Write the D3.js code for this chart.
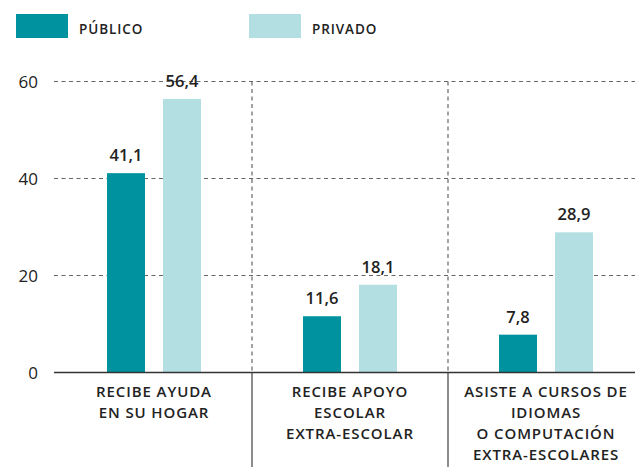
<!DOCTYPE html>
<html><head><meta charset="utf-8">
<script src="https://cdn.jsdelivr.net/npm/d3@7"></script>
<style>body{margin:0;background:#fff}svg{display:block}text{font-family:"Open Sans",sans-serif;fill:#222}</style>
</head><body><svg width="635" height="468"></svg>
<script>
const categories = [["RECIBE AYUDA","EN SU HOGAR"],["RECIBE APOYO","ESCOLAR","EXTRA-ESCOLAR"],["ASISTE A CURSOS DE","IDIOMAS","O COMPUTACIÓN","EXTRA-ESCOLARES"]];
const seriesNames = ["PÚBLICO","PRIVADO"];
const publico = [41.1, 11.6, 7.8];
const privado = [56.4, 18.1, 28.9];
const yTicks = [0, 20, 40, 60];
const colors = ["#00929f", "#b3dfe2"];

const svg = d3.select("svg");
const W = 635, H = 468;
const y = d3.scaleLinear().domain([0, 60]).range([372.5, 81.5]);
const x0 = d3.scaleBand().domain(d3.range(categories.length)).range([56, 644]).padding(0);
const x1 = d3.scaleBand().domain(seriesNames).range([-47, 47]).paddingInner(0.3214);
const fmt = v => d3.format(".1f")(v).replace(".", ",");

// gridlines
svg.append("g").selectAll("line").data(yTicks.filter(d => d > 0)).join("line")
  .attr("x1", 54).attr("x2", W).attr("y1", d => y(d)).attr("y2", d => y(d))
  .attr("stroke", "#666").attr("stroke-width", 1.2).attr("stroke-dasharray", "4,3.5");

// y tick labels
svg.append("g").selectAll("text").data(yTicks).join("text")
  .attr("x", 38).attr("y", d => y(d)).attr("dy", "0.36em").attr("text-anchor", "end")
  .style("font-size", "17px").text(d => d);

// dividers
const divs = d3.range(1, categories.length).map(i => x0(i));
svg.append("g").selectAll("line").data(divs).join("line")
  .attr("x1", d => d).attr("x2", d => d).attr("y1", y(60)).attr("y2", y(0))
  .attr("stroke", "#666").attr("stroke-width", 1.2).attr("stroke-dasharray", "4,3.5");
svg.append("g").selectAll("line").data(divs).join("line")
  .attr("x1", d => d).attr("x2", d => d).attr("y1", y(0)).attr("y2", 467)
  .attr("stroke", "#666").attr("stroke-width", 1.5);

// bars
const rows = categories.map((c, i) => ({i, vals: [publico[i], privado[i]]}));
const g = svg.append("g").selectAll("g").data(rows).join("g")
  .attr("transform", d => `translate(${x0(d.i) + x0.bandwidth() / 2},0)`);
g.selectAll("rect").data(d => d.vals.map((v, k) => ({v, k}))).join("rect")
  .attr("x", d => x1(seriesNames[d.k])).attr("width", x1.bandwidth())
  .attr("y", d => y(d.v)).attr("height", d => y(0) - y(d.v))
  .attr("fill", d => colors[d.k]);
g.selectAll("text.val").data(d => d.vals.map((v, k) => ({v, k}))).join("text")
  .attr("class", "val")
  .attr("x", d => x1(seriesNames[d.k]) + x1.bandwidth() / 2)
  .attr("y", d => y(d.v) - 12).attr("text-anchor", "middle")
  .style("font-size", "16.5px").style("font-weight", "600").text(d => fmt(d.v));

// baseline
svg.append("line").attr("x1", 54).attr("x2", W).attr("y1", y(0)).attr("y2", y(0))
  .attr("stroke", "#333").attr("stroke-width", 1.5);

// category labels
const cl = svg.append("g").selectAll("text").data(categories).join("text")
  .attr("text-anchor", "middle")
  .attr("transform", (d, i) => `translate(${x0(i) + x0.bandwidth() / 2},397)`)
  .style("font-size", "15px").style("font-weight", "600").style("letter-spacing", "0.9px");
cl.selectAll("tspan").data(d => d).join("tspan")
  .attr("x", 0).attr("y", (d, j) => j * 21).text(d => d);

// legend
const legX = [16, 249];
const lg = svg.append("g").selectAll("g").data(seriesNames).join("g")
  .attr("transform", (d, i) => `translate(${legX[i]},14)`);
lg.append("rect").attr("width", 52).attr("height", 24).attr("fill", (d, i) => colors[i]);
lg.append("text").attr("x", 63).attr("y", 20).style("font-size", "13.5px")
  .style("font-weight", "600").style("letter-spacing", "0.9px").text(d => d);
</script></body></html>
